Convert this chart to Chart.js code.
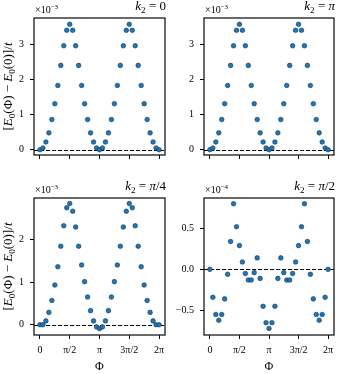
<!DOCTYPE html>
<html>
<head>
<meta charset="utf-8">
<script src="https://cdn.jsdelivr.net/npm/chart.js@4.4.1/dist/chart.umd.min.js"></script>
<style>
    body { margin: 0; background: #ffffff; }
    #wrap { position: relative; width: 341px; height: 374px; }
    #wrap canvas { position: absolute; left: 0; top: 0; }
</style>
</head>
<body>
<div id="wrap">
    <canvas id="panelK0" width="341" height="374"></canvas>
    <canvas id="panelKPi" width="341" height="374"></canvas>
    <canvas id="panelKPi4" width="341" height="374"></canvas>
    <canvas id="panelKPi2" width="341" height="374"></canvas>
</div>
<script>
// flux Phi in units of pi
const phiOverPi = [0, 0.05, 0.1, 0.15, 0.2, 0.25, 0.3, 0.35, 0.4, 0.45, 0.5, 0.55, 0.6, 0.65, 0.7, 0.75, 0.8, 0.85, 0.9, 0.95, 1,
    1.05, 1.1, 1.15, 1.2, 1.25, 1.3, 1.35, 1.4, 1.45, 1.5, 1.55, 1.6, 1.65, 1.7, 1.75, 1.8, 1.85, 1.9, 1.95, 2];
const xTicks = [0, 0.5, 1, 1.5, 2];
const xTickLabels = ["0", "π/2", "π", "3π/2", "2π"];

// [E0(Phi) - E0(0)]/t, in units of 1e-3 (k2 = 0, pi, pi/4) and 1e-4 (k2 = pi/2)
const gapK0 = [0, 0.05, 0.22, 0.48, 0.86, 1.31, 1.83, 2.40, 2.96, 3.40, 3.57, 3.40, 2.96, 2.40, 1.83, 1.31, 0.86, 0.48, 0.22, 0.05, 0,
    0.05, 0.22, 0.48, 0.86, 1.31, 1.83, 2.40, 2.96, 3.40, 3.57, 3.40, 2.96, 2.40, 1.83, 1.31, 0.86, 0.48, 0.22, 0.05, 0];
const gapKPi = [0, 0.05, 0.22, 0.48, 0.86, 1.31, 1.83, 2.40, 2.96, 3.40, 3.57, 3.40, 2.96, 2.40, 1.83, 1.31, 0.86, 0.48, 0.22, 0.05, 0,
    0.05, 0.22, 0.48, 0.86, 1.31, 1.83, 2.40, 2.96, 3.40, 3.57, 3.40, 2.96, 2.40, 1.83, 1.31, 0.86, 0.48, 0.22, 0.05, 0];
const gapKPi4 = [0, 0, 0.09, 0.29, 0.57, 0.93, 1.36, 1.84, 2.32, 2.74, 2.84, 2.66, 2.29, 1.84, 1.40, 1.01, 0.65, 0.33, 0.09, -0.05, -0.09,
    -0.05, 0.09, 0.33, 0.65, 1.01, 1.40, 1.84, 2.29, 2.66, 2.84, 2.74, 2.32, 1.84, 1.36, 0.93, 0.57, 0.29, 0.09, 0, 0];
const gapKPi2 = [0, -0.34, -0.55, -0.62, -0.55, -0.36, -0.06, 0.34, 0.80, 0.52, 0.29, 0.09, -0.05, -0.13, -0.13, -0.04, 0.14, -0.11, -0.45, -0.65, -0.72,
    -0.65, -0.45, -0.11, 0.14, -0.04, -0.13, -0.13, -0.05, 0.09, 0.29, 0.52, 0.80, 0.34, -0.06, -0.36, -0.55, -0.62, -0.55, -0.34, 0];

const yTicksK = [0, 1, 2, 3];
const yTickLabelsK = ["0", "1", "2", "3"];
const yTicksPi4 = [0, 1, 2];
const yTickLabelsPi4 = ["0", "1", "2"];
const yTicksPi2 = [-0.5, 0, 0.5];
const yTickLabelsPi2 = ["−0.5", "0.0", "0.5"];

const FONT = '"Liberation Serif", "DejaVu Serif", serif';
const W = 341, H = 374, Y_AXIS_W = 34, X_AXIS_H = 39;

const panels = [
    { id: "panelK0", box: [34, 18, 165, 155], values: gapK0, yMin: -0.15, yMax: 3.75, yTicks: yTicksK, yLabels: yTickLabelsK,
      exp: "−3", k2: [["0", "r"]], xLabels: false, yTitle: true },
    { id: "panelKPi", box: [204, 18, 334, 155], values: gapKPi, yMin: -0.15, yMax: 3.75, yTicks: yTicksK, yLabels: yTickLabelsK,
      exp: "−3", k2: [["π", "i"]], xLabels: false, yTitle: false },
    { id: "panelKPi4", box: [34, 198, 165, 335], values: gapKPi4, yMin: -0.24, yMax: 2.97, yTicks: yTicksPi4, yLabels: yTickLabelsPi4,
      exp: "−3", k2: [["π", "i"], ["/4", "r"]], xLabels: true, yTitle: true },
    { id: "panelKPi2", box: [204, 198, 334, 335], values: gapKPi2, yMin: -0.80, yMax: 0.87, yTicks: yTicksPi2, yLabels: yTickLabelsPi2,
      exp: "−4", k2: [["π", "i"], ["/2", "r"]], xLabels: true, yTitle: false }
];

// draws mixed runs: r = roman, i = italic, sub / sup = small shifted
function drawRuns(ctx, runs, x, y, align, size) {
    const parts = runs.map(([t, s]) => {
        const small = s === "sub" || s === "sup";
        const font = `${s === "i" ? "italic " : ""}${small ? size * 0.7 : size}px ${FONT}`;
        ctx.font = font;
        const dy = s === "sub" ? size * 0.25 : s === "sup" ? -size * 0.42 : 0;
        return { t, font, dy, w: ctx.measureText(t).width };
    });
    const total = parts.reduce((sum, p) => sum + p.w, 0);
    let cx = align === "right" ? x - total : align === "center" ? x - total / 2 : x;
    ctx.textAlign = "left";
    ctx.textBaseline = "alphabetic";
    ctx.fillStyle = "#000";
    parts.forEach((p) => {
        ctx.font = p.font;
        ctx.fillText(p.t, cx, y + p.dy);
        cx += p.w;
    });
}

const decorations = {
    id: "decorations",
    beforeDatasetsDraw(chart) {
        const { ctx, chartArea } = chart;
        const y0 = Math.round(chart.scales.y.getPixelForValue(0)) + 0.5;
        ctx.save();
        ctx.strokeStyle = "#000";
        ctx.lineWidth = 1;
        ctx.setLineDash([4.2, 1.8]);
        ctx.beginPath();
        ctx.moveTo(chartArea.left, y0);
        ctx.lineTo(chartArea.right, y0);
        ctx.stroke();
        ctx.restore();
    },
    afterDraw(chart, args, opts) {
        const { ctx, chartArea } = chart;
        const { left, top, right, bottom } = chartArea;
        const p = opts.panel;
        ctx.save();
        // frame round the axes
        ctx.strokeStyle = "#1a1a1a";
        ctx.lineWidth = 1.3;
        ctx.strokeRect(left, top, right - left, bottom - top);

        drawRuns(ctx, [["×10", "r"], [p.exp, "sup"]], left + 1, top - 5, "left", 10);
        drawRuns(ctx, [["k", "i"], ["2", "sub"], [" = ", "r"], ...p.k2], right + 1, top - 8, "right", 13);

        if (p.xLabels) {
            drawRuns(ctx, [["Φ", "r"]], (left + right) / 2, 370, "center", 12);
        }
        if (p.yTitle) {
            ctx.translate(8, (top + bottom) / 2);
            ctx.rotate(-Math.PI / 2);
            drawRuns(ctx, [["[", "r"], ["E", "i"], ["0", "sub"], ["(Φ) − ", "r"], ["E", "i"], ["0", "sub"], ["(0)]/", "r"], ["t", "i"]],
                0, 4, "center", 13);
        }
        ctx.restore();
    }
};

panels.forEach((p) => {
    const [left, top, right, bottom] = p.box;
    new Chart(document.getElementById(p.id), {
        type: "scatter",
        data: {
            datasets: [{
                data: phiOverPi.map((x, i) => ({ x, y: p.values[i] })),
                pointRadius: 2.3,
                pointBackgroundColor: "#1f77b4",
                pointBorderColor: "#0d3358",
                pointBorderWidth: 0.6
            }]
        },
        options: {
            responsive: false,
            animation: false,
            devicePixelRatio: 1,
            events: [],
            layout: { padding: { left: left - Y_AXIS_W, top: top, right: W - right, bottom: H - bottom - X_AXIS_H } },
            plugins: {
                legend: { display: false },
                tooltip: { enabled: false },
                decorations: { panel: p }
            },
            scales: {
                x: {
                    type: "linear",
                    min: -0.1,
                    max: 2.1,
                    afterBuildTicks: (s) => { s.ticks = xTicks.map((v) => ({ value: v })); },
                    afterFit: (s) => { s.height = X_AXIS_H; },
                    ticks: {
                        autoSkip: false,
                        maxRotation: 0,
                        padding: 5,
                        color: "#000",
                        font: { family: FONT, size: 10 },
                        callback: (v, i) => (p.xLabels ? xTickLabels[i] : "")
                    },
                    grid: { drawOnChartArea: false, drawTicks: true, tickLength: 4, color: "#000", lineWidth: 1 },
                    border: { display: false }
                },
                y: {
                    type: "linear",
                    min: p.yMin,
                    max: p.yMax,
                    afterBuildTicks: (s) => { s.ticks = p.yTicks.map((v) => ({ value: v })); },
                    afterFit: (s) => { s.width = Y_AXIS_W; },
                    ticks: {
                        autoSkip: false,
                        padding: 6,
                        color: "#000",
                        font: { family: FONT, size: 10 },
                        callback: (v, i) => p.yLabels[i]
                    },
                    grid: { drawOnChartArea: false, drawTicks: true, tickLength: 4, color: "#000", lineWidth: 1 },
                    border: { display: false }
                }
            }
        },
        plugins: [decorations]
    });
});
</script>
</body>
</html>
